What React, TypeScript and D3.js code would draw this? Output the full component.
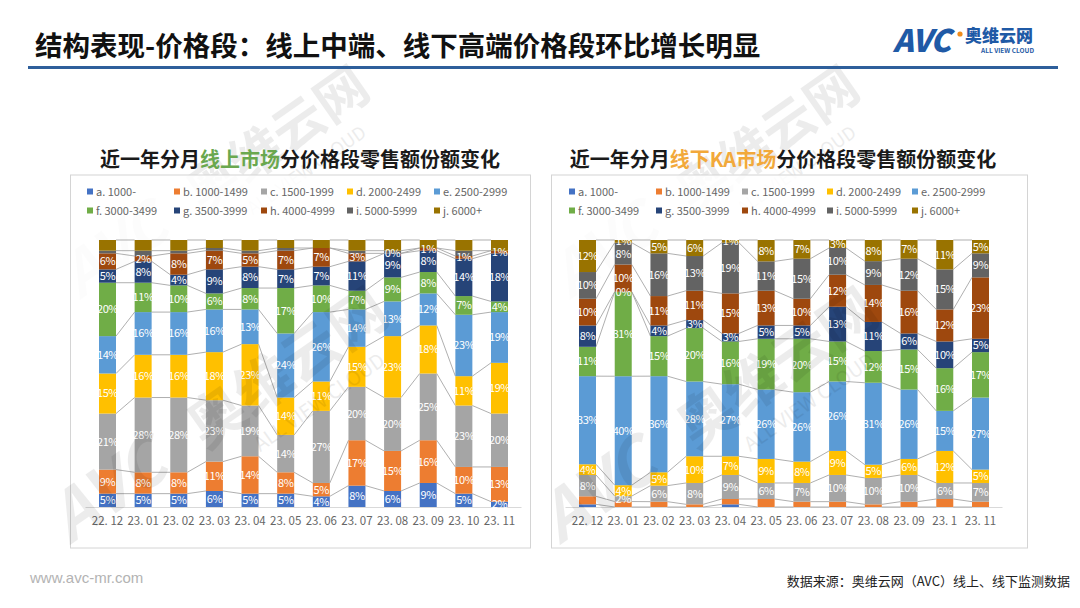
import React, { useEffect } from "react";
import * as d3 from "d3";

const keys = ["a", "b", "c", "d", "e", "f", "g", "h", "i", "j"];
const legendLabels = [
  "a. 1000-", "b. 1000-1499", "c. 1500-1999", "d. 2000-2499", "e. 2500-2999",
  "f. 3000-3499", "g. 3500-3999", "h. 4000-4999", "i. 5000-5999", "j. 6000+",
];
const colors = ["#4472c4", "#ed7d31", "#a5a5a5", "#ffc000", "#5b9bd5", "#70ad47", "#264478", "#9e480e", "#636363", "#997300"];

const onlineMonths = ["22. 12", "23. 01", "23. 02", "23. 03", "23. 04", "23. 05", "23. 06", "23. 07", "23. 08", "23. 09", "23. 10", "23. 11"];
const offlineMonths = ["22. 12", "23. 01", "23. 02", "23. 03", "23. 04", "23. 05", "23. 06", "23. 07", "23. 08", "23. 09", "23. 1", "23. 11"];

// Online market shares (%), series a..j
const onA = [5, 5, 5, 6, 5, 5, 4, 8, 6, 9, 5, 2];
const onB = [9, 8, 8, 11, 14, 8, 5, 17, 15, 16, 10, 13];
const onC = [21, 28, 28, 23, 19, 14, 27, 20, 20, 25, 23, 20];
const onD = [15, 16, 16, 18, 23, 14, 11, 15, 23, 18, 11, 19];
const onE = [14, 16, 16, 16, 13, 24, 26, 14, 13, 12, 23, 19];
const onF = [20, 11, 10, 6, 8, 17, 10, 7, 9, 8, 7, 4];
const onG = [5, 8, 4, 9, 8, 7, 7, 11, 9, 8, 14, 18];
const onH = [6, 2, 8, 7, 5, 7, 7, 3, 0, 1, 1, 1];
const onI = [1, 2, 1, 1, 1, 1, 0, 1, 1, 0, 2, 0];
const onJ = [4, 4, 4, 3, 4, 3, 3, 4, 4, 3, 4, 4];

// Offline KA market shares (%), series a..j
const offA = [1, 0, 0, 0, 1, 0, 0, 0, 0, 0, 0, 0];
const offB = [3, 2, 2, 1, 2, 3, 2, 2, 1, 2, 3, 2];
const offC = [8, 2, 6, 8, 9, 6, 7, 10, 10, 10, 6, 7];
const offD = [4, 4, 5, 10, 7, 9, 8, 9, 5, 6, 12, 5];
const offE = [33, 40, 36, 28, 27, 26, 26, 26, 31, 26, 15, 27];
const offF = [11, 31, 15, 20, 16, 19, 20, 15, 12, 15, 16, 17];
const offG = [8, 0, 4, 3, 3, 5, 5, 13, 11, 6, 10, 5];
const offH = [10, 10, 11, 11, 15, 13, 10, 12, 14, 16, 12, 23];
const offI = [10, 8, 16, 13, 19, 11, 15, 10, 9, 12, 15, 9];
const offJ = [12, 1, 5, 6, 1, 8, 7, 3, 8, 7, 11, 5];

const onlineSeries = [onA, onB, onC, onD, onE, onF, onG, onH, onI, onJ];
const offlineSeries = [offA, offB, offC, offD, offE, offF, offG, offH, offI, offJ];

const FONT = "'Noto Sans CJK SC', 'Noto Sans', sans-serif";

type ChartProps = {
  boxX: number;
  boxW: number;
  months: string[];
  series: number[][];
  labeled: string[];
  legendX: number[];
  xRange: [number, number];
};

function StackChart({ boxX, boxW, months, series, labeled, legendX, xRange }: ChartProps) {
  const rows = months.map((m, i) => {
    const r: any = { month: m };
    keys.forEach((k, s) => (r[k] = series[s][i]));
    return r;
  });
  const stacked = d3.stack<any>().keys(keys).offset(d3.stackOffsetExpand)(rows);
  const x = d3.scalePoint<string>().domain(months).range(xRange);
  const y = d3.scaleLinear().domain([0, 1]).range([507, 240]);
  const bw = 17;
  const boxY = 175;
  const boxH = 373;

  return (
    <g>
      <rect x={boxX} y={boxY} width={boxW} height={boxH} fill="#fff" fillOpacity={0.85} stroke="#d4d4d4" strokeWidth={1} />
      {/* legend */}
      {legendLabels.map((l, i) => {
        const lx = legendX[i % 5];
        const ly = i < 5 ? 192 : 211;
        return (
          <g key={l}>
            <rect x={lx} y={ly - 3.5} width={6} height={6} fill={colors[i]} />
            <text x={lx + 9} y={ly} dy="0.35em" fontSize={11} fill="#666" fontFamily={FONT}>
              {l}
            </text>
          </g>
        );
      })}
      {/* axis line */}
      <line x1={xRange[0] - 22} x2={xRange[1] + 22} y1={y(0) + 0.5} y2={y(0) + 0.5} stroke="#d9d9d9" />
      {/* series lines */}
      {stacked.map((layer) => (
        <g key={"sl" + layer.key}>
          {layer.slice(0, -1).map((d, i) => {
            const nx = layer[i + 1];
            return (
              <line
                key={i}
                x1={(x(months[i]) as number) + bw / 2}
                y1={y(d[1])}
                x2={(x(months[i + 1]) as number) - bw / 2}
                y2={y(nx[1])}
                stroke="#a6a6a6"
                strokeWidth={0.9}
              />
            );
          })}
        </g>
      ))}
      {/* bars */}
      {stacked.map((layer, s) => (
        <g key={"b" + layer.key} fill={colors[s]}>
          {layer.map((d, i) => (
            <rect
              key={i}
              x={(x(months[i]) as number) - bw / 2}
              y={y(d[1])}
              width={bw}
              height={Math.max(0, y(d[0]) - y(d[1]))}
            />
          ))}
        </g>
      ))}
      {/* labels */}
      {stacked.map((layer, s) =>
        labeled.includes(layer.key) ? (
          <g key={"l" + layer.key}>
            {layer.map((d, i) => (
              <text
                key={i}
                x={x(months[i]) as number}
                y={(y(d[0]) + y(d[1])) / 2}
                dy="0.36em"
                textAnchor="middle"
                fontSize={11}
                letterSpacing={-0.4}
                fill="#fff"
                fontFamily={FONT}
              >
                {series[s][i] + "%"}
              </text>
            ))}
          </g>
        ) : null
      )}
      {/* x labels */}
      {months.map((m) => (
        <text
          key={m}
          x={x(m) as number}
          y={521}
          dy="0.35em"
          textAnchor="middle"
          fontSize={11.5}
          fill="#666"
          fontFamily={FONT}
        >
          {m}
        </text>
      ))}
    </g>
  );
}

function Watermark({ x, y, s }: { x: number; y: number; s: number }) {
  return (
    <g transform={`translate(${x},${y}) rotate(-35) scale(${s})`} opacity={0.07} fill="#000" fontFamily={FONT} fontWeight={700}>
      <text x={0} y={0} fontSize={60} fontStyle="italic">AVC</text>
      <text x={150} y={0} fontSize={52}>奥维云网</text>
      <text x={190} y={30} fontSize={18} fontWeight={400}>ALL VIEW CLOUD</text>
    </g>
  );
}

export default function App() {
  useEffect(() => {
    document.body.style.margin = "0";
  }, []);
  return (
    <svg width={1080} height={608} style={{ display: "block", position: "absolute", left: 0, top: 0 }} fontFamily={FONT}>
      <rect width={1080} height={608} fill="#fff" />
      <Watermark x={80} y={300} s={1} />
      <Watermark x={570} y={300} s={1} />
      {/* header */}
      <text x={35} y={46} dy="0.35em" fontSize={27.5} fontWeight={700} fill="#111">
        结构表现-价格段：线上中端、线下高端价格段环比增长明显
      </text>
      <rect x={28} y={66} width={1030} height={3} fill="#2e5f9b" />
      {/* logo */}
      <text x={893} y={41} dy="0.35em" fontSize={31} fontWeight={900} fill="#1f5aa6" fontStyle="italic" letterSpacing={-1}>
        AVC
      </text>
      <circle cx={960} cy={34} r={2.6} fill="#f08c1c" />
      <text x={965} y={36} dy="0.35em" fontSize={17} fontWeight={900} fill="#1f5aa6">
        奥维云网
      </text>
      <text x={981} y={51} dy="0.35em" fontSize={6.5} fontWeight={700} fill="#1f5aa6">
        ALL VIEW CLOUD
      </text>
      {/* chart titles */}
      <text x={300} y={160} dy="0.35em" textAnchor="middle" fontSize={20} fontWeight={700} fill="#1a1a1a">
        近一年分月<tspan fill="#6aa84f">线上市场</tspan>分价格段零售额份额变化
      </text>
      <text x={783} y={160} dy="0.35em" textAnchor="middle" fontSize={20} fontWeight={700} fill="#1a1a1a">
        近一年分月<tspan fill="#f2a93b">线下KA市场</tspan>分价格段零售额份额变化
      </text>
      <StackChart
        boxX={70.5}
        boxW={460}
        months={onlineMonths}
        series={onlineSeries}
        labeled={["a", "b", "c", "d", "e", "f", "g", "h"]}
        legendX={[87, 174, 261, 347, 434]}
        xRange={[107.5, 499.5]}
      />
      <StackChart
        boxX={551.5}
        boxW={476}
        months={offlineMonths}
        series={offlineSeries}
        labeled={["c", "d", "e", "f", "g", "h", "i", "j"]}
        legendX={[569, 656, 742, 827, 912]}
        xRange={[587.5, 980.5]}
      />
      <Watermark x={70} y={545} s={1.1} />
      <Watermark x={560} y={545} s={1.1} />
      {/* footer */}
      <text x={30} y={578} dy="0.35em" fontSize={15} fill="#b3b3b3" fontFamily="'Liberation Sans', sans-serif">
        www.avc-mr.com
      </text>
      <text x={1070} y={581} dy="0.35em" textAnchor="end" fontSize={13} fill="#222">
        数据来源：奥维云网（AVC）线上、线下监测数据
      </text>
    </svg>
  );
}
